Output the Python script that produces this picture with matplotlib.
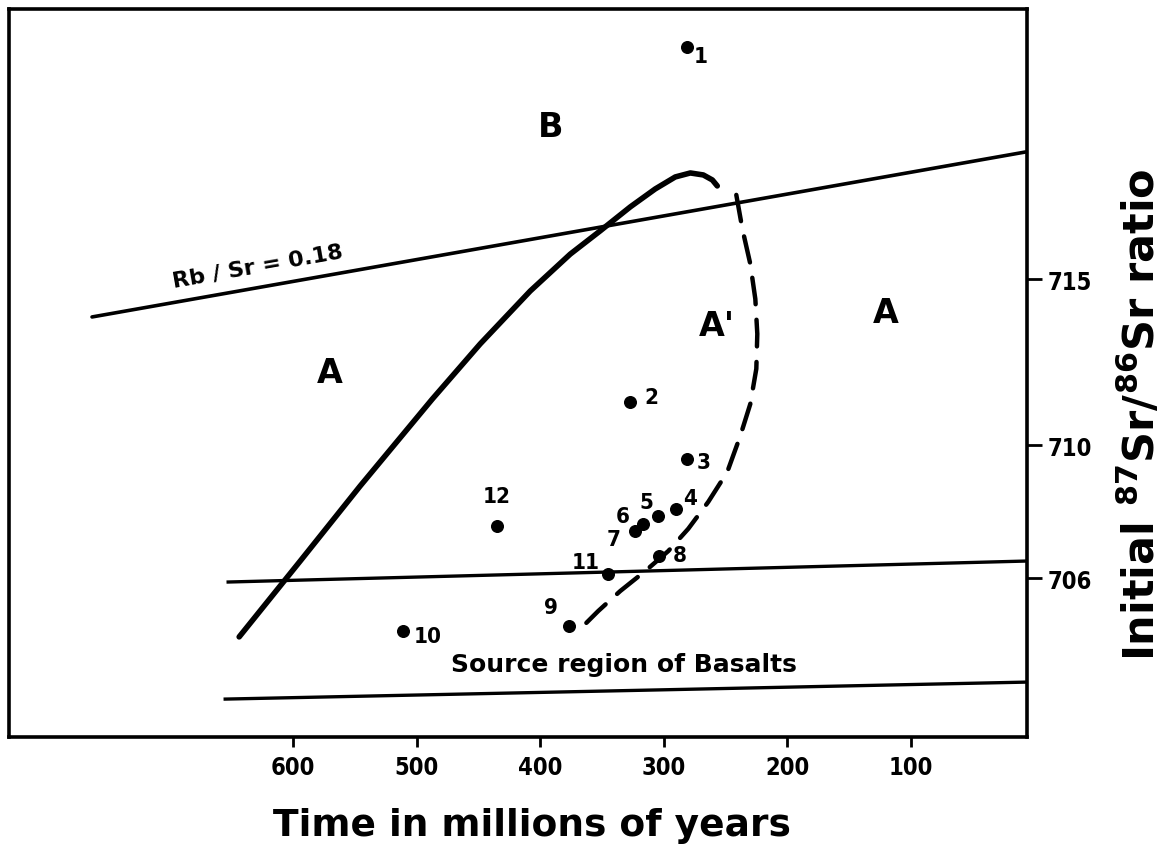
import matplotlib
matplotlib.use("Agg")
import matplotlib.pyplot as plt

# ---- data ----
point_ids = ["1", "2", "3", "4", "5", "6", "7", "8", "9", "10", "11", "12"]
point_age = [281, 327, 281, 290, 305, 317, 323, 304, 377, 511, 345, 435]
point_ratio = [721.98, 711.30, 709.59, 708.08, 707.87, 707.63, 707.42, 706.67,
               704.57, 704.42, 706.13, 707.57]

# solid evolution curve
solid_age = [643.7, 594.3, 545.7, 487.4, 448.6, 408.1, 375.7, 351.4, 327.1,
             306.9, 290.7, 278.5, 268.0, 260.7, 256.7]
solid_ratio = [704.24, 706.52, 708.78, 711.39, 713.05, 714.64, 715.75, 716.45,
               717.17, 717.71, 718.07, 718.19, 718.13, 717.98, 717.80]

# dashed curve
dash_age = [241.3, 236.4, 230.0, 225.9, 224.3, 225.1, 230.0, 238.1, 248.6,
            264.0, 280.2, 296.4, 315.0, 335.2, 353.0, 369.2]
dash_ratio = [717.53, 716.51, 715.46, 714.40, 713.35, 712.30, 711.24, 710.28,
              709.20, 708.30, 707.49, 706.82, 706.22, 705.62, 705.02, 704.42]

# straight lines
rbsr_age = [762.8, 7.3]
rbsr_ratio = [713.86, 718.82]
basalt_top_age = [652.6, 7.3]
basalt_top_ratio = [705.89, 706.52]
basalt_bot_age = [655.0, 7.3]
basalt_bot_ratio = [702.37, 702.88]

x_ticks = [600, 500, 400, 300, 200, 100]
y_ticks = [715, 710, 706]
y_ticklabels = ["715", "710", "706"]

# label offsets (points) for each data number
label_dx = [10, 15, 12, 10, -8, -14.5, -16, 15, -13, 18, -16.5, 0]
label_dy = [-6.5, 3.6, -2, 8, 10, 5.8, -5.8, 0.7, 13.7, -3.6, 8.6, 21.6]

fam = ["DejaVu Sans"]

fig = plt.figure(figsize=(11.64, 8.53), dpi=100)
ax = fig.add_axes([9 / 1164, 1 - 738 / 853, (1027 - 9) / 1164, (738 - 10) / 853])
ax.set_xlim(830, 6)
ax.set_ylim(701.23, 723.12)

lc = "black"
ax.plot(rbsr_age, rbsr_ratio, color=lc, lw=2.6, solid_capstyle="round")
ax.plot(basalt_top_age, basalt_top_ratio, color=lc, lw=2.4)
ax.plot(basalt_bot_age, basalt_bot_ratio, color=lc, lw=2.4)
ax.plot(solid_age, solid_ratio, color=lc, lw=4.0, solid_capstyle="round",
        solid_joinstyle="round")
ax.plot(dash_age, dash_ratio, color=lc, lw=3.2, dashes=(6, 3.5),
        dash_capstyle="round")

ax.scatter(point_age, point_ratio, s=70, color=lc, zorder=5)
for pid, a, r, dx, dy in zip(point_ids, point_age, point_ratio, label_dx, label_dy):
    ax.annotate(pid, (a, r), xytext=(dx, dy), textcoords="offset points",
                ha="center", va="center", fontsize=16, fontweight="bold",
                family=fam, fontstretch="condensed")

# region labels
ax.text(391.9, 719.6, "B", fontsize=24, fontweight="bold", ha="center", va="center")
ax.text(570, 712.2, "A", fontsize=24, fontweight="bold", ha="center", va="center")
ax.text(257, 713.6, "A'", fontsize=24, fontweight="bold", ha="center", va="center")
ax.text(120.6, 714.0, "A", fontsize=24, fontweight="bold", ha="center", va="center")
ax.text(332, 703.43, "Source region of Basalts", fontsize=18, fontweight="bold",
        ha="center", va="center")
ax.text(628.3, 715.4, "Rb / Sr = 0.18", fontsize=16, fontweight="bold",
        ha="center", va="center", rotation=10, rotation_mode="anchor")

for s in ax.spines.values():
    s.set_linewidth(2.6)

ax.set_xticks(x_ticks)
ax.set_xticklabels([str(t) for t in x_ticks], fontsize=17, fontweight="bold",
                   family=fam, fontstretch="condensed")
ax.tick_params(axis="x", direction="out", length=7, width=2, pad=6)

ax.yaxis.tick_right()
ax.yaxis.set_label_position("right")
ax.set_yticks(y_ticks)
ax.set_yticklabels(y_ticklabels, fontsize=17, fontweight="bold", family=fam,
                   fontstretch="condensed")
ax.tick_params(axis="y", direction="out", length=11, width=2, pad=4)

ax.set_ylabel(r"Initial $^{\mathbf{87}}$Sr/$^{\mathbf{86}}$Sr ratio", fontsize=31,
              fontweight="bold", rotation=90)
ax.yaxis.set_label_coords(1.089, 0.444)
ax.set_xlabel("Time in millions of years", fontsize=27, fontweight="bold")
ax.xaxis.set_label_coords(0.514, -0.096)

fig.savefig("out.png", dpi=100)
